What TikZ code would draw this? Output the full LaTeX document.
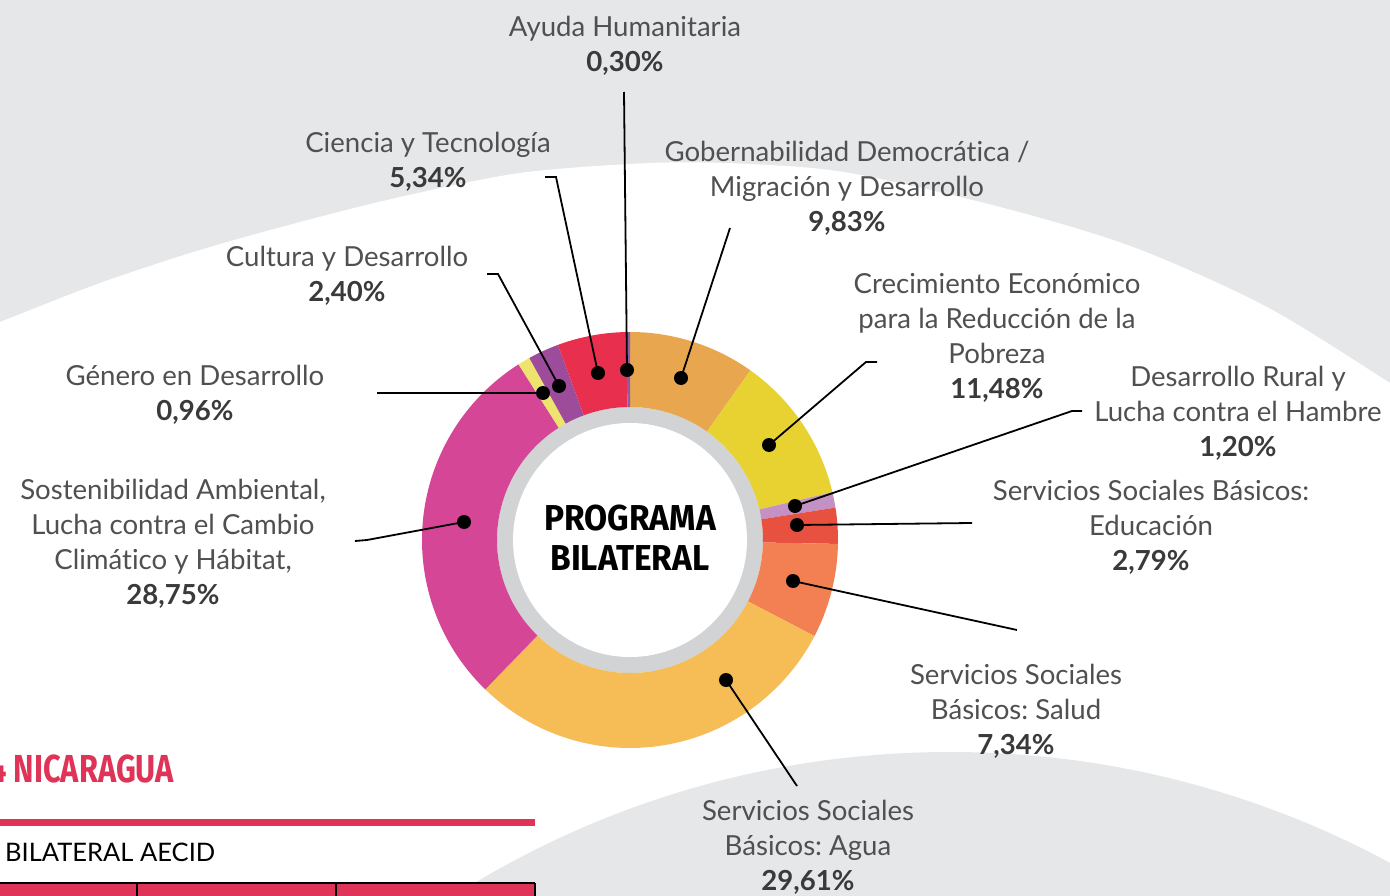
\documentclass[tikz,border=0pt]{standalone}
\usepackage{fontspec}
\setmainfont{Lato}[Ligatures=NoCommon]
\newfontfamily\condfont[FakeStretch=0.93]{Fira Sans}
\newfontfamily\titlefont[FakeStretch=0.79]{Fira Sans}
\frenchspacing
\definecolor{bggray}{HTML}{E6E7E8}
\definecolor{ringgray}{HTML}{D1D3D4}
\definecolor{lblgray}{HTML}{505050}
\definecolor{pctgray}{HTML}{3A3A3A}
\definecolor{nicred}{HTML}{DF3358}
\definecolor{cGob}{HTML}{E8A64F}
\definecolor{cCre}{HTML}{E8D232}
\definecolor{cRur}{HTML}{C391C3}
\definecolor{cEdu}{HTML}{E8503F}
\definecolor{cSal}{HTML}{F28052}
\definecolor{cAgu}{HTML}{F6BD57}
\definecolor{cSos}{HTML}{D54697}
\definecolor{cGen}{HTML}{EEE36C}
\definecolor{cCul}{HTML}{9D4C9B}
\definecolor{cCie}{HTML}{E8304E}
\definecolor{cAyu}{HTML}{8E5AAA}
\newcommand\donutseg[3]{\fill[#1] (#2:208) arc[start angle=#2, end angle=#3, radius=208] -- (#3:133) arc[start angle=#3, end angle=#2, radius=133] -- cycle;}
\tikzset{
  lbl/.style={align=center, inner sep=0pt, text=lblgray, font=\fontsize{27.6}{35}\selectfont},
  dot/.style={circle, fill=black, inner sep=0pt, minimum size=14pt},
  leader/.style={draw=black, line width=1.8pt},
  center/.style={font=\condfont\bfseries\fontsize{36}{40}\selectfont, inner sep=0pt, text=black}
}
\newcommand\pct[1]{\textcolor{pctgray}{\bfseries #1}}
\begin{document}
\begin{tikzpicture}[x=1pt,y=-1pt]
\useasboundingbox (0,0) rectangle (1390,896);
\begin{scope}
\clip (0,0) rectangle (1390,896);
\fill[bggray] (0,0) rectangle (1390,896);
\fill[white] plot[smooth] coordinates {(-10,326) (0,322) (100,283) (200,250) (300,222) (400,197) (520,173) (650,163) (750,164) (850,173) (1000,207) (1133,247) (1267,307) (1390,383) (1400,390)} -- (1400,900) -- (-10,900) -- cycle;
\fill[bggray] (950,1679) circle[radius=927];
\end{scope}
% header and table
\fill[nicred] (0,819) rectangle (535,826);
\fill[nicred] (0,883) rectangle (535,897);
\draw[black, line width=1.2pt] (0,883) -- (535,883) (137,883) -- (137,897) (336,883) -- (336,897) (535,883) -- (535,897);
\node[anchor=base east, inner sep=0pt, text=nicred, font=\titlefont\bfseries\fontsize{39}{40}\selectfont] (title) at (174,782) {4 NICARAGUA};
\node[anchor=base west, inner sep=0pt, text=black, font=\fontsize{25.5}{28}\selectfont] (sub) at (5,861) {BILATERAL AECID};
% donut
\begin{scope}[shift={(630,540)}]
\fill[ringgray] (0,0) circle[radius=133];
\fill[white] (0,0) circle[radius=117];
\donutseg{cGob}{-90}{-54.612}
\donutseg{cCre}{-54.612}{-13.284}
\donutseg{cRur}{-13.284}{-8.964}
\donutseg{cEdu}{-8.964}{1.08}
\donutseg{cSal}{1.08}{27.504}
\donutseg{cAgu}{27.504}{134.1}
\donutseg{cSos}{134.1}{237.6}
\donutseg{cGen}{237.6}{241.056}
\donutseg{cCul}{241.056}{249.696}
\donutseg{cCie}{249.696}{268.92}
\donutseg{cAyu}{268.92}{270}
\end{scope}
\node[center, anchor=base] (prog) at (630,530) {PROGRAMA};
\node[center, anchor=base] (bil) at (630,570) {BILATERAL};
% dots
\node[dot] (dAyu) at (627,370) {};
\node[dot] (dCie) at (598,373) {};
\node[dot] (dCul) at (559,386) {};
\node[dot] (dGen) at (543,393) {};
\node[dot] (dGob) at (681,378) {};
\node[dot] (dCre) at (769,445) {};
\node[dot] (dRur) at (795,506) {};
\node[dot] (dEdu) at (797,525) {};
\node[dot] (dSal) at (793,581) {};
\node[dot] (dAgu) at (726,680) {};
\node[dot] (dSos) at (464,522) {};
% leader end points
\coordinate (eAyu) at (624,92);
\coordinate (kCie) at (556,177); \coordinate (eCie) at (545,177);
\coordinate (kCul) at (498,274); \coordinate (eCul) at (487,274);
\coordinate (eGen) at (377,393);
\coordinate (eGob) at (730,228);
\coordinate (kCre) at (866,362); \coordinate (eCre) at (877,362);
\coordinate (kRur) at (1072,411); \coordinate (eRur) at (1082,411);
\coordinate (eEdu) at (972,523);
\coordinate (eSal) at (1017,630);
\coordinate (eAgu) at (797,786);
\coordinate (kSos) at (367,540); \coordinate (eSos) at (355,541);
\draw[leader] (dAyu.center) -- (eAyu);
\draw[leader] (dCie.center) -- (kCie) -- (eCie);
\draw[leader] (dCul.center) -- (kCul) -- (eCul);
\draw[leader] (dGen.center) -- (eGen);
\draw[leader] (dGob.center) -- (eGob);
\draw[leader] (dCre.center) -- (kCre) -- (eCre);
\draw[leader] (dRur.center) -- (kRur) -- (eRur);
\draw[leader] (dEdu.center) -- (eEdu);
\draw[leader] (dSal.center) -- (eSal);
\draw[leader] (dAgu.center) -- (eAgu);
\draw[leader] (dSos.center) -- (kSos) -- (eSos);
% labels
\node[lbl] (lAyu) at (625,45.5) {Ayuda Humanitaria\\\pct{0,30\%}};
\node[lbl] (lCie) at (428,161.5) {Ciencia y Tecnología\\\pct{5,34\%}};
\node[lbl] (lGob) at (847,188) {Gobernabilidad Democrática /\\Migración y Desarrollo\\\pct{9,83\%}};
\node[lbl] (lCul) at (347,275.5) {Cultura y Desarrollo\\\pct{2,40\%}};
\node[lbl] (lCre) at (997,337.5) {Crecimiento Económico\\para la Reducción de la\\Pobreza\\\pct{11,48\%}};
\node[lbl] (lGen) at (195,395) {Género en Desarrollo\\\pct{0,96\%}};
\node[lbl] (lRur) at (1238,413) {Desarrollo Rural y\\Lucha contra el Hambre\\\pct{1,20\%}};
\node[lbl] (lSos) at (173,543.5) {Sostenibilidad Ambiental,\\Lucha contra el Cambio\\Climático y Hábitat,\\\pct{28,75\%}};
\node[lbl] (lEdu) at (1151,527) {Servicios Sociales Básicos:\\Educación\\\pct{2,79\%}};
\node[lbl] (lSal) at (1016,711) {Servicios Sociales\\Básicos: Salud\\\pct{7,34\%}};
\node[lbl] (lAgu) at (808,847) {Servicios Sociales\\Básicos: Agua\\\pct{29,61\%}};
\end{tikzpicture}
\end{document}
